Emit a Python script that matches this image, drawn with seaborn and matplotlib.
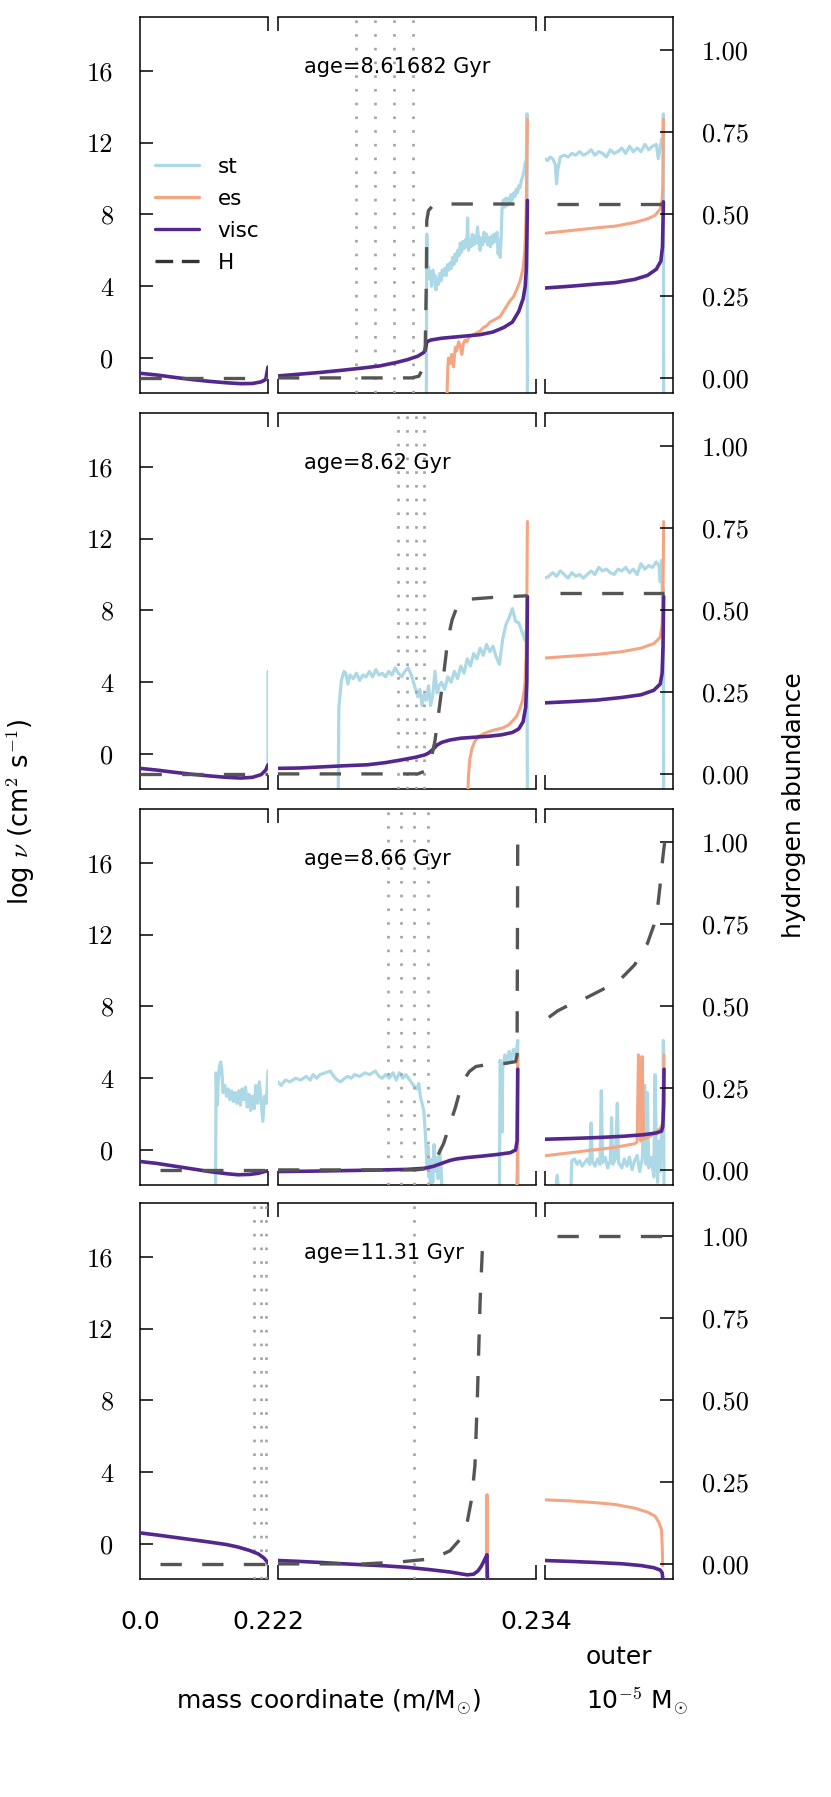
import matplotlib

matplotlib.use("Agg")
import matplotlib.pyplot as plt
import seaborn as sns
from matplotlib.lines import Line2D

# ---------------------------------------------------------------------------
# Data.
# left panel x: mass coordinate (M_sun), 0 .. 0.222
# middle panel x: offset above 0.222 M_sun, in units of 1e-3 M_sun (0 .. 12)
# right panel x: position inside the outer 1e-5 M_sun window (0 .. 1)
# y: log nu (st, es, visc) or hydrogen abundance (H)
# ---------------------------------------------------------------------------
AGES = ["age=8.61682 Gyr", "age=8.62 Gyr", "age=8.66 Gyr", "age=11.31 Gyr"]
LABELS = ["st", "es", "visc", "H"]

# row 1 --------------------------------------------------------------------
R1_L_VISC = [(0, -0.85), (0.03, -0.95), (0.06, -1.08), (0.09, -1.2), (0.12, -1.3),
             (0.15, -1.38), (0.175, -1.43), (0.195, -1.42), (0.21, -1.33),
             (0.218, -1.2), (0.222, -0.5)]
R1_L_H = [(0, 0.0), (0.222, 0.0)]
R1_M_ST = [(6.90, -2.5), (6.92, 6.9), (6.95, 4.6), (7.00, 5.1), (7.05, 4.4), (7.10, 4.8),
           (7.15, 4.0), (7.20, 4.9), (7.25, 4.3), (7.30, 4.6), (7.35, 3.8), (7.40, 4.4),
           (7.46, 4.1), (7.52, 4.7), (7.58, 4.3), (7.64, 4.9), (7.70, 4.6), (7.76, 5.0),
           (7.82, 4.6), (7.88, 5.2), (7.94, 4.9), (8.00, 5.3), (8.06, 5.0), (8.12, 5.6),
           (8.18, 5.2), (8.24, 5.8), (8.30, 5.4), (8.36, 6.0), (8.42, 5.7), (8.48, 6.4),
           (8.54, 5.9), (8.60, 6.5), (8.66, 6.1), (8.72, 6.6), (8.78, 6.2), (8.82, 7.8),
           (8.86, 6.0), (8.92, 6.6), (8.98, 6.2), (9.04, 6.9), (9.10, 6.3), (9.16, 6.8),
           (9.22, 6.4), (9.28, 7.3), (9.34, 6.5), (9.40, 6.0), (9.46, 6.7), (9.52, 6.3),
           (9.58, 7.0), (9.64, 6.5), (9.70, 6.9), (9.76, 6.3), (9.82, 6.7), (9.88, 6.2),
           (9.94, 6.8), (10.00, 6.4), (10.06, 6.9), (10.12, 6.5), (10.18, 7.0), (10.24, 5.8),
           (10.30, 6.6), (10.34, 5.6), (10.38, 6.8), (10.42, 8.3), (10.48, 8.8), (10.54, 8.4),
           (10.60, 8.9), (10.66, 8.5), (10.72, 8.9), (10.78, 8.6), (10.84, 9.1), (10.90, 8.8),
           (10.96, 9.2), (11.02, 9.0), (11.08, 9.4), (11.14, 9.2), (11.20, 9.6), (11.26, 9.5),
           (11.32, 9.9), (11.38, 10.1), (11.44, 10.4), (11.50, 10.9), (11.55, 11.0),
           (11.58, 13.6), (11.60, -2.5)]
R1_M_ES = [(7.85, -2.5), (7.90, -0.5), (7.93, 0.0), (8.00, -0.3), (8.08, 0.2), (8.16, -0.5),
           (8.25, 0.6), (8.31, 0.4), (8.40, 0.9), (8.47, 0.7), (8.55, 0.2), (8.62, 0.8),
           (8.70, 1.0), (8.78, 0.9), (8.85, 1.1), (8.93, 1.2), (9.09, 1.3), (9.25, 1.4),
           (9.40, 1.5), (9.56, 1.7), (9.71, 1.8), (9.86, 2.0), (10.02, 2.1), (10.17, 2.2),
           (10.33, 2.3), (10.48, 2.6), (10.64, 2.9), (10.80, 3.2), (10.95, 3.4), (11.10, 3.8),
           (11.26, 4.3), (11.40, 5.0), (11.48, 6.0), (11.54, 8.0), (11.57, 10.6), (11.60, 13.3)]
R1_M_VISC = [(0, -1.0), (1, -0.9), (2, -0.8), (3, -0.68), (4, -0.55), (4.74, -0.44),
             (5.5, -0.25), (6.0, -0.1), (6.5, 0.1), (6.77, 0.3), (6.85, 0.45), (6.92, 0.9),
             (7.1, 1.0), (7.6, 1.1), (8.5, 1.2), (9.4, 1.3), (10.0, 1.45), (10.5, 1.7),
             (10.9, 2.0), (11.2, 2.6), (11.4, 3.3), (11.5, 4.0), (11.55, 5.0), (11.58, 7.0),
             (11.6, 8.78)]
R1_M_H = [(0, 0.0), (6.2, 0.0), (6.55, 0.005), (6.75, 0.03), (6.85, 0.1), (6.9, 0.3),
          (6.92, 0.48), (7.0, 0.51), (7.2, 0.525), (8.0, 0.53), (11.6, 0.53)]
R1_R_ST = [(0.0, 11.1), (0.02, 11.0), (0.04, 11.2), (0.06, 11.1), (0.08, 10.8), (0.09, 9.7),
           (0.10, 10.5), (0.12, 11.2), (0.15, 11.3), (0.18, 11.2), (0.21, 11.4), (0.24, 11.3),
           (0.27, 11.5), (0.30, 11.3), (0.33, 11.4), (0.36, 11.6), (0.39, 11.3), (0.42, 11.5),
           (0.45, 11.4), (0.48, 11.2), (0.51, 11.6), (0.54, 11.4), (0.57, 11.5), (0.60, 11.7),
           (0.63, 11.4), (0.66, 11.8), (0.69, 11.5), (0.72, 11.7), (0.75, 11.5), (0.78, 11.9),
           (0.81, 11.6), (0.84, 11.8), (0.87, 11.9), (0.885, 11.1), (0.90, 11.7), (0.91, 12.2),
           (0.92, 11.8), (0.925, 13.6), (0.927, -2.5)]
R1_R_ES = [(0, 6.95), (0.2, 7.1), (0.4, 7.25), (0.55, 7.35), (0.7, 7.55), (0.8, 7.75),
           (0.86, 7.95), (0.9, 8.3), (0.915, 8.8), (0.92, 9.5), (0.925, 13.3)]
R1_R_VISC = [(0, 3.9), (0.2, 4.0), (0.4, 4.12), (0.55, 4.2), (0.7, 4.38), (0.8, 4.6),
             (0.87, 4.95), (0.905, 5.4), (0.918, 6.2), (0.925, 8.7)]
R1_R_H = [(0.09, 0.53), (0.925, 0.53)]
R1_DOTS_M = [3.65, 4.5, 5.4, 6.3]

# row 2 --------------------------------------------------------------------
R2_L_VISC = [(0, -0.8), (0.03, -0.9), (0.06, -1.02), (0.09, -1.13), (0.12, -1.22),
             (0.15, -1.3), (0.175, -1.34), (0.195, -1.3), (0.21, -1.15), (0.218, -0.9),
             (0.222, -0.6)]
R2_L_ST = [(0.2219, -0.7), (0.222, 4.6)]
R2_L_H = [(0, 0.0), (0.222, 0.0)]
R2_M_ST = [(2.80, -2.5), (2.83, 2.6), (2.95, 4.1), (3.07, 4.6), (3.15, 4.5), (3.25, 3.9),
           (3.35, 4.4), (3.5, 4.2), (3.65, 4.5), (3.8, 4.1), (3.95, 4.4), (4.1, 4.3),
           (4.25, 4.6), (4.4, 4.3), (4.55, 4.7), (4.7, 4.4), (4.85, 4.5), (5.0, 4.3),
           (5.15, 4.6), (5.3, 4.4), (5.45, 4.8), (5.6, 4.5), (5.75, 4.3), (5.9, 4.6),
           (6.05, 4.8), (6.2, 4.4), (6.35, 3.8), (6.5, 3.2), (6.6, 3.6), (6.7, 2.7),
           (6.8, 3.3), (6.9, 3.0), (7.0, 3.8), (7.1, 2.7), (7.2, 3.3), (7.3, 4.6), (7.4, 3.4),
           (7.5, 3.8), (7.6, 4.0), (7.75, 3.6), (7.9, 4.3), (8.05, 4.0), (8.2, 4.6),
           (8.35, 4.2), (8.5, 4.9), (8.65, 4.5), (8.8, 5.3), (8.95, 4.9), (9.1, 5.6),
           (9.25, 5.3), (9.4, 5.9), (9.55, 5.5), (9.7, 6.1), (9.85, 5.7), (10.0, 6.0),
           (10.15, 5.4), (10.3, 5.0), (10.45, 6.4), (10.6, 7.2), (10.75, 7.6), (10.9, 8.1),
           (11.05, 7.4), (11.2, 7.3), (11.35, 6.8), (11.5, 6.3), (11.55, 6.9), (11.58, 6.5),
           (11.60, -2.5)]
R2_M_ES = [(8.82, -2.5), (8.86, -1.2), (8.92, -0.3), (9.02, 0.3), (9.15, 0.7), (9.35, 1.0),
           (9.6, 1.15), (9.82, 1.25), (10.1, 1.35), (10.45, 1.45), (10.7, 1.6), (10.92, 1.85),
           (11.1, 2.1), (11.24, 2.5), (11.38, 3.0), (11.48, 3.8), (11.54, 5.5), (11.57, 8.0),
           (11.6, 12.95)]
R2_M_VISC = [(0, -0.8), (1.0, -0.78), (2.0, -0.72), (3.0, -0.66), (4.17, -0.6), (5.0, -0.48),
             (5.74, -0.33), (6.4, -0.18), (6.83, -0.05), (7.0, 0.05), (7.2, 0.25), (7.4, 0.5),
             (7.62, 0.65), (8.0, 0.78), (8.5, 0.88), (9.2, 0.94), (9.82, 0.99), (10.4, 1.07),
             (10.9, 1.2), (11.2, 1.4), (11.4, 1.8), (11.52, 2.6), (11.57, 4.0), (11.6, 8.77)]
R2_M_H = [(0, 0.0), (6.5, 0.0), (6.9, 0.01), (7.1, 0.04), (7.3, 0.1), (7.5, 0.2), (7.7, 0.3),
          (7.9, 0.41), (8.1, 0.47), (8.3, 0.505), (8.6, 0.525), (9.0, 0.533), (10.0, 0.538),
          (11.6, 0.543)]
R2_R_ST = [(0.0, 9.8), (0.03, 9.9), (0.06, 10.1), (0.09, 9.9), (0.12, 10.2), (0.15, 10.0),
           (0.18, 9.8), (0.21, 10.1), (0.24, 9.9), (0.27, 10.0), (0.30, 9.8), (0.33, 10.0),
           (0.36, 10.2), (0.39, 10.0), (0.42, 10.4), (0.45, 10.2), (0.48, 10.3), (0.51, 10.1),
           (0.54, 10.0), (0.57, 10.3), (0.60, 10.2), (0.63, 10.4), (0.66, 10.1), (0.69, 10.3),
           (0.72, 10.0), (0.75, 10.6), (0.78, 10.3), (0.81, 10.5), (0.84, 10.4), (0.87, 10.7),
           (0.89, 10.5), (0.90, 9.6), (0.91, 10.8), (0.918, 8.7), (0.925, 9.2), (0.927, -2.5)]
R2_R_ES = [(0.0, 5.35), (0.2, 5.45), (0.4, 5.55), (0.6, 5.7), (0.75, 5.9), (0.85, 6.15),
           (0.9, 6.5), (0.915, 7.2), (0.922, 9.0), (0.927, 12.95)]
R2_R_VISC = [(0.0, 2.85), (0.2, 2.92), (0.4, 3.0), (0.6, 3.15), (0.75, 3.3), (0.85, 3.55),
             (0.9, 3.9), (0.915, 4.5), (0.922, 6.0), (0.927, 8.77)]
R2_R_H = [(0.12, 0.55), (0.927, 0.55)]
R2_DOTS_M = [5.6, 6.0, 6.4, 6.8]

# row 3 --------------------------------------------------------------------
R3_L_VISC = [(0, -0.64), (0.03, -0.75), (0.06, -0.9), (0.09, -1.05), (0.12, -1.2),
             (0.15, -1.32), (0.17, -1.38), (0.19, -1.36), (0.205, -1.3), (0.222, -1.15)]
R3_L_ST = [(0.131, -2.5), (0.132, 4.3), (0.134, 2.5), (0.136, 4.0), (0.138, 4.7), (0.140, 4.9),
           (0.142, 4.4), (0.144, 3.2), (0.147, 3.6), (0.150, 3.0), (0.153, 3.4), (0.156, 2.8),
           (0.159, 3.3), (0.162, 2.7), (0.165, 3.2), (0.168, 2.6), (0.171, 3.3), (0.174, 2.5),
           (0.177, 3.4), (0.180, 2.8), (0.183, 3.5), (0.186, 2.4), (0.189, 3.1), (0.192, 2.2),
           (0.195, 3.0), (0.198, 2.3), (0.201, 3.6), (0.204, 2.6), (0.207, 3.8), (0.210, 2.8),
           (0.213, 1.6), (0.216, 3.0), (0.219, 2.6), (0.222, 4.4)]
R3_L_H = [(0.035, 0.0), (0.222, 0.0)]
R3_M_ST_A = [(0.0, 3.8), (0.15, 3.6), (0.34, 3.9), (0.55, 3.8), (0.82, 4.0), (1.05, 3.9),
             (1.31, 4.1), (1.5, 3.9), (1.63, 4.2), (1.8, 4.0), (1.95, 4.2), (2.2, 4.3),
             (2.43, 4.4), (2.6, 4.1), (2.75, 3.9), (2.92, 3.8), (3.1, 4.0), (3.24, 4.1),
             (3.4, 4.0), (3.56, 4.2), (3.8, 4.1), (4.04, 4.3), (4.25, 4.2), (4.53, 4.4),
             (4.7, 4.1), (4.85, 4.0), (5.0, 4.2), (5.17, 4.0), (5.35, 4.3), (5.5, 3.9),
             (5.65, 4.3), (5.8, 4.0), (5.95, 4.2), (6.13, 3.9), (6.3, 3.6), (6.46, 3.4),
             (6.55, 3.7), (6.62, 3.0), (6.70, 2.6), (6.78, 2.2), (6.86, 0.8), (6.9, -0.2),
             (6.94, -1.1), (6.98, 0.2), (7.02, -1.5), (7.06, -0.8), (7.1, -2.5), (7.14, -0.5),
             (7.2, -1.8), (7.26, 0.3), (7.3, -1.2), (7.38, -0.4), (7.45, -1.6), (7.52, 0.0),
             (7.58, -0.9), (7.64, -2.5)]
R3_M_ST_B = [(10.30, -2.5), (10.33, 5.0), (10.38, 4.6), (10.42, 1.0), (10.45, 4.5),
             (10.55, 5.3), (10.65, 4.8), (10.75, 5.5), (10.85, 5.0), (10.95, 5.6),
             (11.05, 5.2), (11.12, 5.8), (11.15, 6.1), (11.17, -2.5)]
R3_M_ES = [(11.10, -2.5), (11.13, -1.0), (11.15, 5.3)]
R3_M_VISC = [(0, -1.2), (1.5, -1.18), (3.0, -1.15), (4.5, -1.12), (6.0, -1.08), (6.8, -1.02),
             (7.2, -0.92), (7.6, -0.75), (8.0, -0.58), (8.3, -0.5), (8.8, -0.42), (9.5, -0.34),
             (10.2, -0.25), (10.8, -0.15), (11.05, 0.0), (11.12, 0.5), (11.15, 4.5)]
R3_M_H = [(0, 0.0), (6.4, 0.0), (6.8, 0.003), (7.1, 0.015), (7.4, 0.04), (7.7, 0.08),
          (8.0, 0.14), (8.25, 0.19), (8.5, 0.25), (8.7, 0.28), (8.9, 0.30), (9.2, 0.315),
          (9.8, 0.322), (10.6, 0.325), (11.05, 0.33), (11.12, 0.35), (11.15, 1.0)]
R3_R_ST = [(0.0, -2.5), (0.08, -2.5), (0.095, -1.4), (0.11, -2.5), (0.2, -2.5), (0.21, -0.6),
           (0.23, -0.5), (0.25, -0.8), (0.27, -0.6), (0.29, -0.9), (0.31, -0.7), (0.33, -0.5),
           (0.35, -0.8), (0.36, 1.5), (0.37, -0.6), (0.39, -0.9), (0.41, -0.5), (0.43, -0.8),
           (0.44, 3.3), (0.45, -0.7), (0.47, -0.4), (0.49, -1.0), (0.51, -0.6), (0.52, 1.8),
           (0.53, -0.8), (0.55, -0.5), (0.565, 2.6), (0.575, -0.7), (0.6, -1.0), (0.62, -0.5),
           (0.64, -0.9), (0.66, -0.4), (0.68, -1.1), (0.70, -0.6), (0.72, -0.3), (0.74, -1.2),
           (0.76, -0.5), (0.78, 3.6), (0.79, -0.8), (0.80, 3.2), (0.81, -1.0), (0.83, -0.4),
           (0.85, -1.5), (0.86, 4.2), (0.87, -0.2), (0.88, -1.8), (0.89, 0.5), (0.90, -1.2),
           (0.91, 1.0), (0.92, -0.5), (0.925, 6.1), (0.93, -2.5)]
R3_R_ES = [(0, -0.32), (0.2, -0.15), (0.4, 0.02), (0.55, 0.15), (0.7, 0.35), (0.72, 0.45),
           (0.73, 5.3), (0.745, 5.0), (0.75, 0.5), (0.76, 5.2), (0.77, 0.6), (0.8, 0.7),
           (0.85, 0.9), (0.9, 1.2), (0.92, 1.5), (0.93, 5.3)]
R3_R_VISC = [(0, 0.6), (0.2, 0.64), (0.4, 0.69), (0.6, 0.76), (0.77, 0.85), (0.87, 0.95),
             (0.91, 1.05), (0.92, 1.3), (0.927, 2.5), (0.93, 4.5)]
R3_R_H = [(0.03, 0.465), (0.1, 0.485), (0.2, 0.505), (0.3, 0.52), (0.4, 0.54), (0.5, 0.56),
          (0.6, 0.585), (0.7, 0.625), (0.8, 0.69), (0.85, 0.745), (0.88, 0.8), (0.9, 0.87),
          (0.92, 0.95), (0.935, 1.0), (0.96, 1.0)]
R3_DOTS_M = [5.12, 5.73, 6.31, 6.96]

# row 4 --------------------------------------------------------------------
R4_L_VISC = [(0, 0.62), (0.03, 0.5), (0.06, 0.37), (0.09, 0.24), (0.12, 0.11), (0.15, -0.03),
             (0.17, -0.17), (0.19, -0.36), (0.205, -0.55), (0.215, -0.78), (0.222, -1.05)]
R4_L_H = [(0.035, 0.0), (0.222, 0.0)]
R4_M_VISC = [(0, -0.92), (1, -0.97), (2, -1.03), (3, -1.1), (4, -1.16), (5, -1.22),
             (6, -1.3), (7, -1.42), (8, -1.56), (8.8, -1.72), (9.1, -1.68), (9.3, -1.5),
             (9.45, -1.25), (9.6, -0.9), (9.72, -0.6), (9.74, -1.9)]
R4_M_ES = [(9.71, -2.5), (9.72, 2.75), (9.73, -2.5)]
R4_M_H = [(0, 0.0), (4, 0.0), (5.67, 0.006), (7.22, 0.016), (8.0, 0.04), (8.47, 0.075),
          (8.78, 0.12), (9.01, 0.2), (9.16, 0.3), (9.27, 0.5), (9.40, 0.8), (9.5, 0.95),
          (9.6, 0.995), (9.7, 1.0)]
R4_R_ES = [(0, 2.46), (0.2, 2.4), (0.4, 2.3), (0.55, 2.2), (0.7, 2.0), (0.8, 1.78),
           (0.86, 1.55), (0.89, 1.2), (0.91, 0.8), (0.915, 0.0), (0.92, -1.2)]
R4_R_VISC = [(0, -0.92), (0.2, -0.97), (0.4, -1.03), (0.6, -1.1), (0.75, -1.2),
             (0.85, -1.32), (0.9, -1.45), (0.915, -1.6), (0.92, -1.9)]
R4_R_H = [(0.09, 1.0), (0.92, 1.0)]
R4_DOTS_L = [0.198, 0.209, 0.219]
R4_DOTS_M = [6.33]

# panel contents: (series, points) per row and panel
PANELS = [
    [[("visc", R1_L_VISC), ("H", R1_L_H)],
     [("st", R1_M_ST), ("es", R1_M_ES), ("visc", R1_M_VISC), ("H", R1_M_H)],
     [("st", R1_R_ST), ("es", R1_R_ES), ("visc", R1_R_VISC), ("H", R1_R_H)]],
    [[("st", R2_L_ST), ("visc", R2_L_VISC), ("H", R2_L_H)],
     [("st", R2_M_ST), ("es", R2_M_ES), ("visc", R2_M_VISC), ("H", R2_M_H)],
     [("st", R2_R_ST), ("es", R2_R_ES), ("visc", R2_R_VISC), ("H", R2_R_H)]],
    [[("st", R3_L_ST), ("visc", R3_L_VISC), ("H", R3_L_H)],
     [("st", R3_M_ST_A), ("st", R3_M_ST_B), ("es", R3_M_ES), ("visc", R3_M_VISC),
      ("H", R3_M_H)],
     [("st", R3_R_ST), ("es", R3_R_ES), ("visc", R3_R_VISC), ("H", R3_R_H)]],
    [[("visc", R4_L_VISC), ("H", R4_L_H)],
     [("es", R4_M_ES), ("visc", R4_M_VISC), ("H", R4_M_H)],
     [("es", R4_R_ES), ("visc", R4_R_VISC), ("H", R4_R_H)]],
]
DOTS = [([], R1_DOTS_M), ([], R2_DOTS_M), ([], R3_DOTS_M), (R4_DOTS_L, R4_DOTS_M)]

MID_ORIGIN, MID_UNIT = 0.222, 1e-3

COLORS = {"st": "#add8e6", "es": "#f4a582", "visc": "#54278f", "H": "#555555"}
WIDTHS = {"st": 2.3, "es": 2.2, "visc": 2.6, "H": 2.4}
ORDER = {"st": 2, "es": 4, "visc": 5, "H": 6}
DOT_COLOR = "#a3a3a3"

sns.set_style("white")
plt.rcParams["font.family"] = ["DejaVu Sans"]
plt.rcParams["mathtext.fontset"] = "cm"
plt.rcParams["text.color"] = "black"
plt.rcParams["xtick.color"] = "black"
plt.rcParams["ytick.color"] = "black"
plt.rcParams["axes.labelcolor"] = "black"

W, HT = 831, 1797
COLS_PX = [(140, 128), (278, 258), (545, 128)]
ROW_TOPS_PX = [17, 413, 809, 1203]
ROW_H_PX = 376
HOOK = 14 / ROW_H_PX
XLIMS = [(0, 0.222), (MID_ORIGIN, MID_ORIGIN + 12 * MID_UNIT), (0, 1)]

fig = plt.figure(figsize=(W / 100, HT / 100), dpi=100)


def to_xy(points, col):
    xs = [p[0] for p in points]
    ys = [p[1] for p in points]
    if col == 1:
        xs = [MID_ORIGIN + x * MID_UNIT for x in xs]
    return xs, ys


def hooks(ax, xa):
    for y0, y1 in [(1, 1 - HOOK), (0, HOOK)]:
        ax.plot([xa, xa], [y0, y1], transform=ax.transAxes, color="black", lw=1.1,
                clip_on=False, solid_capstyle="butt")


for r, top in enumerate(ROW_TOPS_PX):
    for c, (x0, w) in enumerate(COLS_PX):
        ax = fig.add_axes([x0 / W, 1 - (top + ROW_H_PX) / HT, w / W, ROW_H_PX / HT])
        axh = ax.twinx()
        for key, pts in PANELS[r][c]:
            xs, ys = to_xy(pts, c)
            target = axh if key == "H" else ax
            kw = dict(ls=(0, (6.4, 6.1))) if key == "H" else {}
            sns.lineplot(x=xs, y=ys, ax=target, sort=False, estimator=None,
                         color=COLORS[key], lw=WIDTHS[key], zorder=ORDER[key], **kw)
        if c < 2:
            for d in DOTS[r][c]:
                xd = MID_ORIGIN + d * MID_UNIT if c == 1 else d
                ax.axvline(xd, color=DOT_COLOR, lw=1.9, ls=(0, (1, 4.2)), zorder=3)

        ax.set_xlim(*XLIMS[c])
        ax.set_ylim(-1.95, 19)
        axh.set_ylim(-0.046, 1.10)
        ax.set_xlabel("")
        ax.set_ylabel("")
        axh.set_ylabel("")
        for s in ax.spines.values():
            s.set_color("black")
            s.set_linewidth(1.1)
        for s in axh.spines.values():
            s.set_visible(False)
        if c == 0:
            ax.spines["right"].set_visible(False)
            hooks(ax, 1)
        elif c == 1:
            ax.spines["left"].set_visible(False)
            ax.spines["right"].set_visible(False)
            hooks(ax, 0)
            hooks(ax, 1)
        else:
            ax.spines["left"].set_visible(False)
            hooks(ax, 0)

        if c == 0:
            ax.set_yticks([0, 4, 8, 12, 16])
            ax.set_yticklabels(["0", "4", "8", "12", "16"], fontfamily="cmr10", fontsize=19)
            ax.tick_params(axis="y", left=True, direction="in", length=9.4, width=1.1,
                           pad=19, color="black")
        else:
            ax.set_yticks([])
        if c == 2:
            axh.set_yticks([0, 0.25, 0.5, 0.75, 1.0])
            axh.set_yticklabels(["0.00", "0.25", "0.50", "0.75", "1.00"],
                                fontfamily="cmr10", fontsize=19)
            axh.tick_params(axis="y", right=True, direction="in", length=9.4, width=1.1,
                            pad=21, color="black")
        else:
            axh.set_yticks([])

        if r == 3 and c == 0:
            ax.set_xticks([0, 0.222])
            ax.set_xticklabels(["0.0", "0.222"], fontsize=18)
        elif r == 3 and c == 1:
            ax.set_xticks([MID_ORIGIN + 12 * MID_UNIT])
            ax.set_xticklabels(["0.234"], fontsize=18)
        else:
            ax.set_xticks([])
        ax.tick_params(axis="x", bottom=False, length=0, pad=22)

        if c == 1:
            ax.text(0.10, 0.868, AGES[r], transform=ax.transAxes, ha="left", va="center",
                    fontsize=15, zorder=8)

handles = [Line2D([], [], color=COLORS["st"], lw=2.4),
           Line2D([], [], color=COLORS["es"], lw=2.4),
           Line2D([], [], color=COLORS["visc"], lw=2.4),
           Line2D([], [], color="#333333", lw=2.4, ls=(0, (5.3, 2.6)))]
fig.legend(handles, LABELS, loc="upper left", bbox_to_anchor=(155 / W, 1 - 157 / HT),
           frameon=False, fontsize=15.5, handlelength=2.05, handletextpad=0.85,
           labelspacing=0.55, borderpad=0, borderaxespad=0)

fig.text(21 / W, 1 - 812 / HT, r"log $\nu$ (cm$^{2}$ s$^{-1}$)", rotation=90,
         ha="center", va="center", fontsize=18.5)
fig.text(794 / W, 1 - 805 / HT, "hydrogen abundance", rotation=90,
         ha="center", va="center", fontsize=18)
fig.text(329 / W, 1 - 1702 / HT, r"mass coordinate (m/M$_{\odot}$)",
         ha="center", va="center", fontsize=18)
fig.text(586 / W, 1 - 1657 / HT, "outer", ha="left", va="center", fontsize=18)
fig.text(586 / W, 1 - 1702 / HT, r"10$^{-5}$ M$_{\odot}$", ha="left", va="center",
         fontsize=18)

fig.savefig("out.png", dpi=100)
